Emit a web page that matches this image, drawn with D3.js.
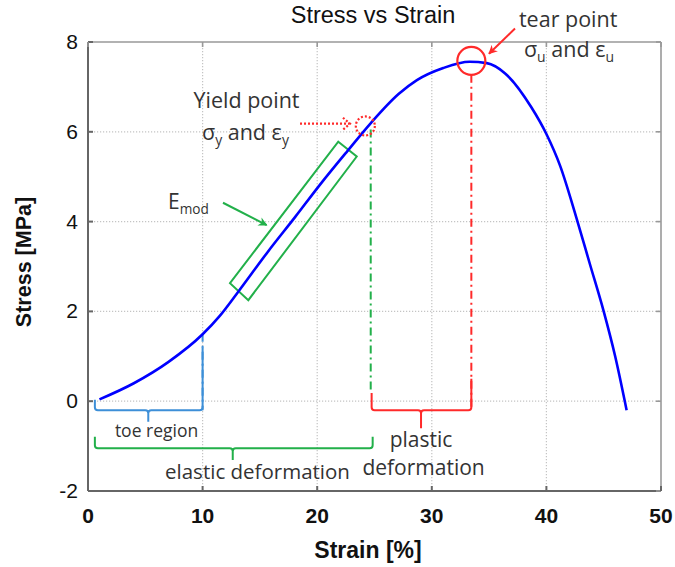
<!DOCTYPE html>
<html><head><meta charset="utf-8">
<script src="https://cdn.jsdelivr.net/npm/d3@7"></script>
<style>body{margin:0;background:#fff}</style>
</head><body><svg id="c" width="675" height="567"></svg>
<script>
// ---- data ----
const strain = [1, 4, 7, 10, 11.5, 13, 15.7, 18.1, 20.3, 22.6, 24.7, 27.1, 28.7, 31.0, 33.3, 34.8, 36.4, 38.7, 40.0, 41.2, 42.6, 43.8, 45.0, 46.0, 47.0];
const stress = [0.04, 0.40, 0.87, 1.49, 1.90, 2.40, 3.33, 4.11, 4.84, 5.56, 6.20, 6.84, 7.15, 7.42, 7.56, 7.53, 7.30, 6.54, 5.95, 5.24, 4.10, 3.05, 2.00, 1.00, -0.20];
const xTicks = [0, 10, 20, 30, 40, 50];
const yTicks = [-2, 0, 2, 4, 6, 8];
const titleText = "Stress vs Strain";
const xLabel = "Strain [%]";
const yLabel = "Stress [MPa]";
// annotation anchors (data units)
const toeEnd = 10;
const yieldStrain = 24.67;
const yieldStress = 6.13;
const tearStrain = 33.45;
const tearStress = 7.58;

// ---- layout ----
const svg = d3.select("#c");
const x = d3.scaleLinear().domain([0, 50]).range([88, 661]);
const y = d3.scaleLinear().domain([-2, 8]).range([491, 42]);
const GREEN = "#22b04a", RED = "#ff2a2a", BLUE = "#0000ff", LBLUE = "#3d8fd8", TXT = "#333";
const ANN = "'Open Sans', 'DejaVu Sans', sans-serif";
const ARIAL = "'Liberation Sans', Arial, sans-serif";

const defs = svg.append("defs");
function marker(id, color) {
  defs.append("marker").attr("id", id).attr("viewBox", "0 0 10 10")
    .attr("refX", 9).attr("refY", 5).attr("markerWidth", 4.5).attr("markerHeight", 4.5)
    .attr("orient", "auto").attr("markerUnits", "strokeWidth")
    .append("path").attr("d", "M0,0 L10,5 L0,10 L3,5 Z").attr("fill", color);
}
marker("mg", GREEN); marker("mr", RED);

// grid
const g = svg.append("g");
g.selectAll(".gx").data(xTicks.slice(1, -1)).join("line")
  .attr("x1", d => x(d)).attr("x2", d => x(d)).attr("y1", y(8)).attr("y2", y(-2))
  .attr("stroke", "#c4c4c4").attr("stroke-width", 1.2).attr("stroke-dasharray", "1.2,1.8");
g.selectAll(".gy").data(yTicks.slice(1, -1)).join("line")
  .attr("y1", d => y(d)).attr("y2", d => y(d)).attr("x1", x(0)).attr("x2", x(50))
  .attr("stroke", "#c4c4c4").attr("stroke-width", 1.2).attr("stroke-dasharray", "1.2,1.8");

// frame
g.append("line").attr("x1", x(0)).attr("x2", x(50)).attr("y1", y(8)).attr("y2", y(8)).attr("stroke", "#999").attr("stroke-width", 1.6);
g.append("line").attr("x1", x(50)).attr("x2", x(50)).attr("y1", y(8)).attr("y2", y(-2)).attr("stroke", "#999").attr("stroke-width", 1.6);
g.append("line").attr("x1", x(0)).attr("x2", x(0)).attr("y1", y(8)).attr("y2", y(-2)).attr("stroke", "#666").attr("stroke-width", 2);
g.append("line").attr("x1", x(0)).attr("x2", x(50)).attr("y1", y(-2)).attr("y2", y(-2)).attr("stroke", "#666").attr("stroke-width", 2);

// inward ticks
g.selectAll(".tl").data(yTicks).join("line").attr("x1", x(0)).attr("x2", x(0) + 5).attr("y1", d => y(d)).attr("y2", d => y(d)).attr("stroke", "#666").attr("stroke-width", 2);
g.selectAll(".tr").data(yTicks).join("line").attr("x1", x(50)).attr("x2", x(50) - 5).attr("y1", d => y(d)).attr("y2", d => y(d)).attr("stroke", "#999").attr("stroke-width", 1.6);
g.selectAll(".tb").data(xTicks).join("line").attr("y1", y(-2)).attr("y2", y(-2) - 5).attr("x1", d => x(d)).attr("x2", d => x(d)).attr("stroke", "#666").attr("stroke-width", 2);
g.selectAll(".tt").data(xTicks).join("line").attr("y1", y(8)).attr("y2", y(8) + 5).attr("x1", d => x(d)).attr("x2", d => x(d)).attr("stroke", "#999").attr("stroke-width", 1.6);

// tick labels
svg.selectAll(".yl").data(yTicks).join("text")
  .attr("x", x(0) - 10).attr("y", d => y(d) + 7).attr("text-anchor", "end")
  .attr("font-family", ARIAL).attr("font-size", 21).attr("fill", "#111").text(d => d);
svg.selectAll(".xl").data(xTicks).join("text")
  .attr("x", d => x(d)).attr("y", 523).attr("text-anchor", "middle")
  .attr("font-family", ARIAL).attr("font-weight", "bold").attr("font-size", 21).attr("fill", "#111").text(d => d);

// titles
svg.append("text").attr("x", 373).attr("y", 23).attr("text-anchor", "middle")
  .attr("font-family", ARIAL).attr("font-size", 23.5).attr("fill", "#111").text(titleText);
svg.append("text").attr("x", 368).attr("y", 558).attr("text-anchor", "middle")
  .attr("font-family", ARIAL).attr("font-weight", "bold").attr("font-size", 23).attr("fill", "#111").text(xLabel);
svg.append("text").attr("transform", `translate(31,262) rotate(-90)`).attr("text-anchor", "middle")
  .attr("font-family", ARIAL).attr("font-weight", "bold").attr("font-size", 21.5).attr("fill", "#111").text(yLabel);

// ---- annotation helpers ----
function brace(x1, x2, xc, yTopL, yTopR, yBar, ySpike, color) {
  const X1 = x(x1), X2 = x(x2), XC = x(xc), YB = y(yBar), r = 3;
  const d = `M${X1},${y(yTopL)} L${X1},${YB - r} Q${X1},${YB} ${X1 + r},${YB} L${XC - r},${YB} Q${XC},${YB} ${XC},${YB + r} L${XC},${y(ySpike)}` +
            ` M${XC},${YB + r} Q${XC},${YB} ${XC + r},${YB} L${X2 - r},${YB} Q${X2},${YB} ${X2},${YB - r} L${X2},${y(yTopR)}`;
  svg.append("path").attr("d", d).attr("fill", "none").attr("stroke", color).attr("stroke-width", 2);
}
function vdash(xv, y1, y2, color) {
  svg.append("line").attr("x1", x(xv)).attr("x2", x(xv)).attr("y1", y(y1)).attr("y2", y(y2))
    .attr("stroke", color).attr("stroke-width", 2).attr("stroke-dasharray", "8,4,2,4");
}
function label(xv, yv, size, anchor, parts) {
  const t = svg.append("text").attr("x", x(xv)).attr("y", y(yv)).attr("text-anchor", anchor)
    .attr("font-family", ANN).attr("font-size", size).attr("fill", TXT);
  let sub = false;
  parts.forEach(p => {
    if (typeof p === "string") {
      t.append("tspan").attr("dy", sub ? -5 : 0).text(p); sub = false;
    } else {
      t.append("tspan").attr("dy", 5).attr("font-size", size * 0.65).text(p.sub); sub = true;
    }
  });
}

// vertical dash-dot guides
vdash(toeEnd, 1.5, -0.2, LBLUE);
vdash(yieldStrain, 6.05, 0.25, GREEN);
vdash(tearStrain, 7.27, -0.2, RED);

// braces
brace(0.6, toeEnd, 5.26, 0.03, 1.2, -0.2, -0.46, LBLUE);
brace(0.6, 24.84, 12.63, -0.79, -0.79, -1.05, -1.31, GREEN);
brace(24.75, tearStrain, 29.06, 0.18, 0.5, -0.2, -0.6, RED);

// E_mod box
const box = [[21.84, 5.78], [23.45, 5.45], [13.99, 2.25], [12.39, 2.63]];
svg.append("path").attr("d", "M" + box.map(p => [x(p[0]), y(p[1])].join(",")).join("L") + "Z")
  .attr("fill", "none").attr("stroke", GREEN).attr("stroke-width", 2);

// curve
svg.append("path").datum(strain.map((s, i) => [s, stress[i]]))
  .attr("d", d3.line().x(d => x(d[0])).y(d => y(d[1])).curve(d3.curveMonotoneX))
  .attr("fill", "none").attr("stroke", BLUE).attr("stroke-width", 2.6);

// E_mod arrow and label
svg.append("line").attr("x1", x(11.78)).attr("y1", y(4.42)).attr("x2", x(15.59)).attr("y2", y(3.92))
  .attr("stroke", GREEN).attr("stroke-width", 2).attr("marker-end", "url(#mg)");
label(6.98, 4.27, 21, "start", ["E", {sub: "mod"}]);

// yield point
svg.append("circle").attr("cx", x(24.2)).attr("cy", y(yieldStress)).attr("r", 9.5)
  .attr("fill", "none").attr("stroke", RED).attr("stroke-width", 2.2).attr("stroke-dasharray", "2,2");
svg.append("line").attr("x1", x(18.5)).attr("y1", y(6.18)).attr("x2", x(22.8)).attr("y2", y(6.18))
  .attr("stroke", RED).attr("stroke-width", 2.2).attr("stroke-dasharray", "2,2");
const ax = x(22.86), ay = y(6.18);
svg.append("path").attr("d", `M${ax - 7},${ay - 6} L${ax},${ay} L${ax - 7},${ay + 6}`)
  .attr("fill", "none").attr("stroke", RED).attr("stroke-width", 2.2).attr("stroke-dasharray", "2,2");
label(13.83, 6.53, 21.5, "middle", ["Yield point"]);
label(13.74, 5.82, 21.5, "middle", ["σ", {sub: "y"}, " and ε", {sub: "y"}]);

// tear point
svg.append("circle").attr("cx", x(tearStrain)).attr("cy", y(tearStress)).attr("r", 14)
  .attr("fill", "none").attr("stroke", RED).attr("stroke-width", 2.2);
svg.append("line").attr("x1", x(37.26)).attr("y1", y(8.3)).attr("x2", x(34.99)).attr("y2", y(7.74))
  .attr("stroke", RED).attr("stroke-width", 2).attr("marker-end", "url(#mr)");
label(41.9, 8.34, 21.5, "middle", ["tear point"]);
label(41.97, 7.67, 21.5, "middle", ["σ", {sub: "u"}, " and ε", {sub: "u"}]);

// region labels
label(5.98, -0.80, 17.5, "middle", ["toe region"]);
label(14.79, -1.73, 20.5, "middle", ["elastic deformation"]);
label(29.06, -1.01, 21, "middle", ["plastic"]);
label(29.28, -1.64, 21, "middle", ["deformation"]);
</script></body></html>
